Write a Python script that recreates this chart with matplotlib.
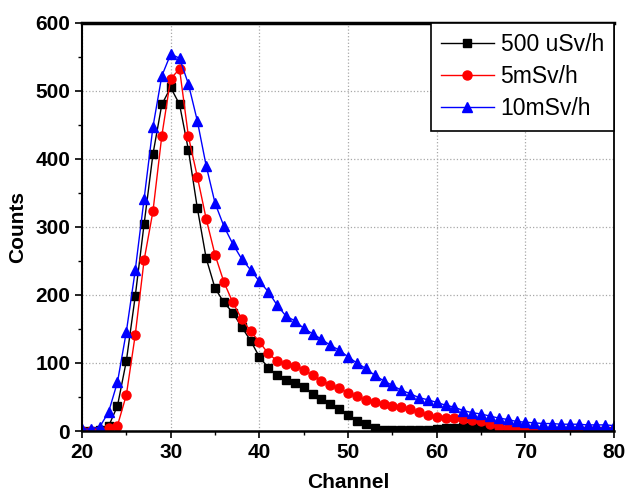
import numpy as np
import matplotlib.pyplot as plt
from matplotlib.ticker import MultipleLocator

plt.rcParams['font.family'] = ['Liberation Sans', 'DejaVu Sans']

channel = list(range(20, 81))

# 500 uSv/h
low = [0, 0, 2, 7, 37, 103, 198, 304, 407, 480,
       505, 480, 413, 328, 254, 210, 189, 174, 153, 133,
       109, 93, 82, 75, 70, 64, 55, 47, 40, 32,
       24, 15, 10, 5, 2, 1, 1, 1, 2, 2,
       3, 4, 5, 6, 6, 5, 4, 3, 2, 1,
       0, 0, 0, 0, 0, 0, 0, 0, 0, 0, 0]

# 5mSv/h
mid = [0, 0, 0, 5, 8, 53, 141, 251, 323, 434,
       518, 532, 433, 374, 312, 259, 219, 189, 165, 147,
       131, 114, 103, 99, 96, 90, 82, 74, 68, 63,
       56, 51, 46, 42, 40, 37, 36, 32, 28, 24,
       20, 19, 19, 18, 16, 14, 10, 6, 5, 4,
       3, 3, 2, 2, 2, 2, 1, 1, 1, 1, 1]

# 10mSv/h
high = [3, 3, 6, 28, 72, 146, 236, 341, 447, 522,
        554, 548, 510, 456, 390, 335, 301, 275, 253, 237,
        220, 205, 185, 169, 162, 151, 143, 135, 126, 119,
        109, 100, 92, 82, 74, 67, 60, 55, 49, 46,
        42, 38, 35, 30, 27, 25, 22, 19, 17, 14,
        13, 12, 11, 11, 10, 10, 10, 9, 9, 9, 8]

fig = plt.figure(figsize=(6.26, 4.96), dpi=100)
ax = fig.add_axes([0.131, 0.131, 0.85, 0.823])

ax.plot(channel, low, color='black', marker='s', ms=6, lw=1, label='500 uSv/h')
ax.plot(channel, mid, color='red', marker='o', ms=6.5, lw=1, label='5mSv/h')
ax.plot(channel, high, color='blue', marker='^', ms=7, lw=1, label='10mSv/h')

ax.set_xlim(20, 80)
ax.set_ylim(0, 600)
ax.xaxis.set_major_locator(MultipleLocator(10))
ax.xaxis.set_minor_locator(MultipleLocator(5))
ax.yaxis.set_major_locator(MultipleLocator(100))
ax.yaxis.set_minor_locator(MultipleLocator(50))
ax.tick_params(which='major', direction='out', length=5, width=1.2, labelsize=15)
ax.tick_params(which='minor', direction='out', length=3, width=1)
for lab in ax.get_xticklabels() + ax.get_yticklabels():
    lab.set_fontweight('bold')

ax.grid(True, which='major', ls=':', color='#a8a8a8', lw=0.9)

ax.spines['top'].set_linewidth(2.5)
ax.spines['left'].set_linewidth(1.5)
ax.spines['bottom'].set_linewidth(1.8)
ax.spines['right'].set_linewidth(1.3)

ax.set_xlabel('Channel', fontsize=15, fontweight='bold', labelpad=8)
ax.set_ylabel('Counts', fontsize=15, fontweight='bold', labelpad=6)

leg = ax.legend(loc='upper right', borderaxespad=0, fontsize=16.5, fancybox=False,
                edgecolor='black', framealpha=1, handlelength=2.3, handletextpad=0.3,
                labelspacing=0.4, borderpad=0.45)
leg.get_frame().set_linewidth(1.2)

fig.savefig('out.png', dpi=100)
